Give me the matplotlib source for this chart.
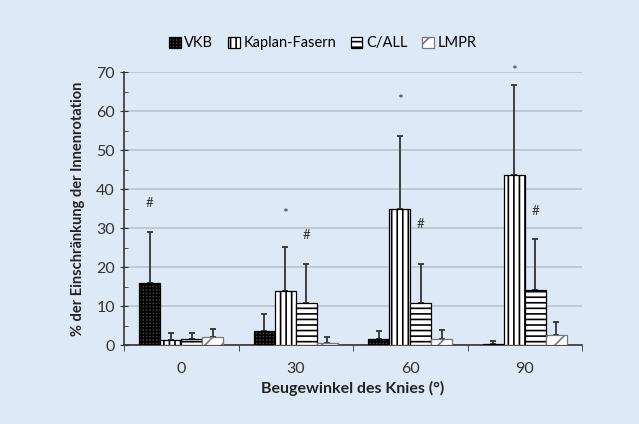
import matplotlib
matplotlib.use("Agg")
import matplotlib.pyplot as plt
import numpy as np
from matplotlib.ticker import MultipleLocator

plt.rcParams['font.family'] = ['Lato', 'DejaVu Sans']
plt.rcParams['hatch.linewidth'] = 1.2

categories = ["0", "30", "60", "90"]
series_names = ["VKB", "Kaplan-Fasern", "C/ALL", "LMPR"]
vkb = [16.0, 3.7, 1.5, 0.3]
kaplan = [1.3, 13.8, 34.9, 43.7]
call = [1.5, 10.9, 10.9, 14.2]
lmpr = [2.0, 0.6, 1.6, 2.5]
vkb_err = [12.9, 4.4, 2.1, 0.7]
kaplan_err = [1.9, 11.4, 18.6, 23.1]
call_err = [1.7, 9.8, 9.9, 12.9]
lmpr_err = [2.2, 1.4, 2.2, 3.5]
# annotations: (category index, series index, text, y)
annotations = [(0, 0, "#", 36.5), (1, 1, "*", 34.4), (1, 2, "#", 28.2),
               (2, 1, "*", 63.7), (2, 2, "#", 31.0), (3, 1, "*", 71.2), (3, 2, "#", 34.4)]

bg = "#dde9f6"
fig = plt.figure(figsize=(6.39, 4.24), dpi=100, facecolor=bg)
ax = fig.add_axes([0.194, 0.186, 0.717, 0.644], facecolor=bg)

values = [vkb, kaplan, call, lmpr]
errs = [vkb_err, kaplan_err, call_err, lmpr_err]
styles = [
    dict(facecolor="#444444", hatch="+++++", edgecolor="black"),
    dict(facecolor="white", hatch="|||", edgecolor="black"),
    dict(facecolor="white", hatch="---", edgecolor="black"),
    dict(facecolor="white", hatch="//", edgecolor="#777777"),
]
x = np.arange(len(categories))
w = 0.183
offsets = (np.arange(4) - 1.5) * w
for i in range(4):
    ax.bar(x + offsets[i], values[i], w, label=series_names[i], linewidth=0.9,
           zorder=3, **styles[i])
    ax.errorbar(x + offsets[i], values[i], yerr=[np.zeros(4), errs[i]], fmt='none',
                ecolor="#333333", elinewidth=1.3, capsize=2.5, capthick=1.3, zorder=2)

for ci, si, t, yv in annotations:
    if t == "*":
        ax.text(x[ci] + offsets[si], yv - 0.8, "*", ha='center', va='center', fontsize=10,
                color="#333333", clip_on=False)
    else:
        ax.text(x[ci] + offsets[si], yv, "#", ha='center', va='center', fontsize=9.5,
                color="#333333", clip_on=False)

ax.set_xlim(-0.5, 3.5)
ax.set_ylim(0, 70)
ax.yaxis.set_major_locator(MultipleLocator(10))
ax.yaxis.set_minor_locator(MultipleLocator(5))
ax.set_xticks(x)
ax.set_xticklabels(categories, fontsize=11.5, color="#333333")
ax.set_xticks(np.arange(-0.5, 4, 1), minor=True)
ax.tick_params(axis='x', which='major', length=0, pad=12)
ax.tick_params(axis='x', which='minor', length=4, direction='out', color="#333333")
ax.tick_params(axis='y', which='major', length=6, direction='inout', color="#333333",
               labelsize=11.5, labelcolor="#333333")
ax.tick_params(axis='y', which='minor', length=3, direction='in', color="#333333")
ax.grid(axis='y', color="#b8c3cf", linewidth=1.2, zorder=0)
ax.set_axisbelow(True)
for s in ['top', 'right']:
    ax.spines[s].set_visible(False)
for s in ['left', 'bottom']:
    ax.spines[s].set_color("#333333")
    ax.spines[s].set_linewidth(1.2)

ax.set_xlabel("Beugewinkel des Knies (°)", fontsize=11.5, fontweight='bold', color="#222222")
ax.set_ylabel("% der Einschränkung der Innenrotation", fontsize=10.5, fontweight='bold',
              color="#222222", labelpad=8)

fig.legend(loc='center', bbox_to_anchor=(0.505, 0.898), ncol=4, frameon=False,
           fontsize=10.5, handlelength=0.8, handleheight=0.8, columnspacing=1.0,
           handletextpad=0.25)

fig.savefig("out.png", dpi=100, facecolor=bg)
